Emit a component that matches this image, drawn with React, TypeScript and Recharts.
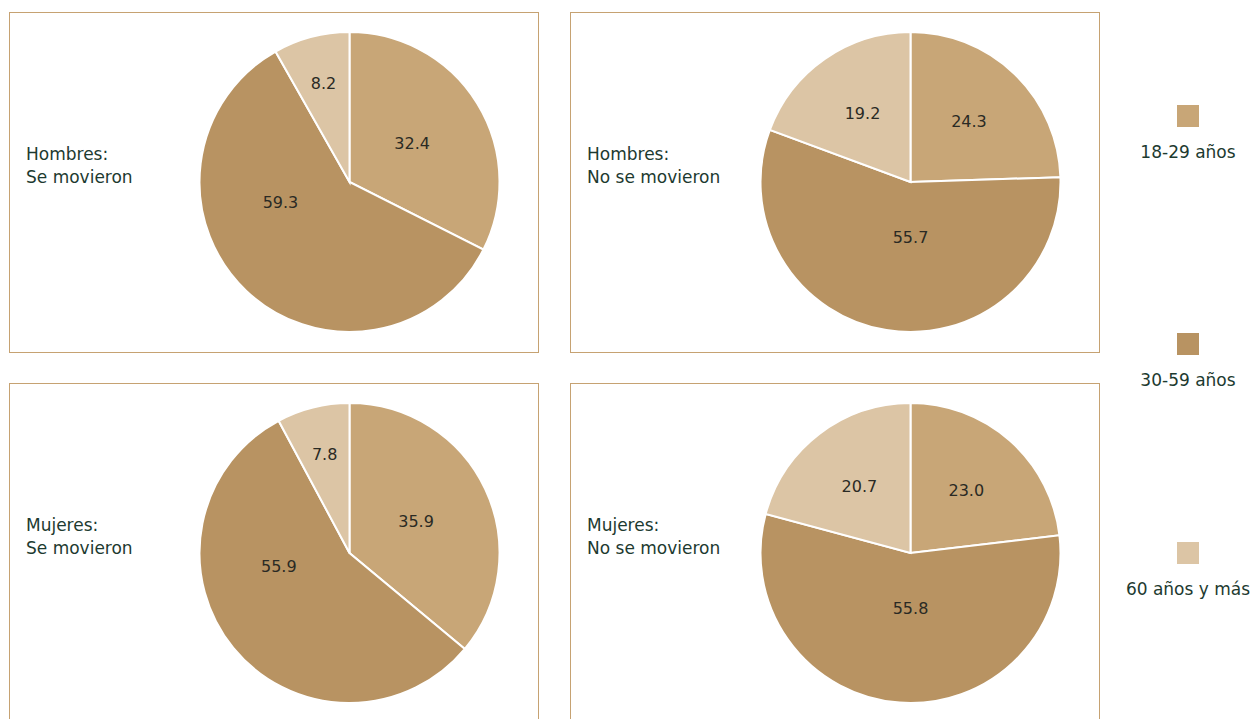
import React from 'react';
import { PieChart, Pie, Cell } from 'recharts';

// age groups (legend + slice order, clockwise from 12 o'clock)
const ageGroups = ['18-29 años', '30-59 años', '60 años y más'];
const sliceColors = ['#c8a677', '#b89362', '#dcc5a5'];

// percentages per panel
const hombresSeMovieron = [32.4, 59.3, 8.2];
const hombresNoSeMovieron = [24.3, 55.7, 19.2];
const mujeresSeMovieron = [35.9, 55.9, 7.8];
const mujeresNoSeMovieron = [23.0, 55.8, 20.7];

const panelTitles = [
  ['Hombres:', 'Se movieron'],
  ['Hombres:', 'No se movieron'],
  ['Mujeres:', 'Se movieron'],
  ['Mujeres:', 'No se movieron'],
];

const panelValues = [hombresSeMovieron, hombresNoSeMovieron, mujeresSeMovieron, mujeresNoSeMovieron];

const FONT = '"DejaVu Sans", "Open Sans", sans-serif';
const TEXT = '#1d3a30';
const BORDER = '#c6a272';

const PANEL_W = 530;
const PANEL_H = 341;
const RADIUS = 150;

// rough imitation of a "best fit" label placement
const renderLabel = ({ cx, cy, midAngle, startAngle, endAngle, outerRadius, percent, value }: any) => {
  const RADIAN = Math.PI / 180;
  let angle = midAngle;
  let f = 0.49;
  if (percent < 0.1) f = 0.68;
  else if (percent < 0.3) f = 0.56;
  else if (percent > 0.5) {
    const down = Math.abs(Math.cos(-midAngle * RADIAN)) < 0.2;
    if (down) {
      angle = -90;
      f = 0.37;
    } else {
      angle = midAngle - 0.14 * Math.abs(endAngle - startAngle);
      f = 0.48;
    }
  }
  const r = outerRadius * f;
  return (
    <text
      x={cx + r * Math.cos(-angle * RADIAN)}
      y={cy + r * Math.sin(-angle * RADIAN)}
      fill="#2a2a24"
      textAnchor="middle"
      dominantBaseline="central"
      fontSize={16}
      fontFamily={FONT}
    >
      {Number(value).toFixed(1)}
    </text>
  );
};

const Panel: React.FC<{ left: number; top: number; idx: number }> = ({ left, top, idx }) => {
  const data = ageGroups.map((g, i) => ({ name: g, value: panelValues[idx][i] }));
  return (
    <div
      style={{
        position: 'absolute',
        left,
        top,
        width: PANEL_W,
        height: PANEL_H,
        border: `1px solid ${BORDER}`,
        boxSizing: 'border-box',
      }}
    >
      <div
        style={{
          position: 'absolute',
          left: 16,
          top: 130,
          fontFamily: FONT,
          fontSize: 17,
          lineHeight: '23px',
          color: TEXT,
        }}
      >
        {panelTitles[idx].map((t) => (
          <div key={t}>{t}</div>
        ))}
      </div>
      <div style={{ position: 'absolute', left: 0, top: 0 }}>
        <PieChart width={PANEL_W - 2} height={PANEL_H - 2} margin={{ top: 0, right: 0, bottom: 0, left: 0 }}>
          <Pie
            data={data}
            dataKey="value"
            cx={339.5}
            cy={169}
            outerRadius={RADIUS}
            innerRadius={0}
            startAngle={90}
            endAngle={-270}
            labelLine={false}
            label={renderLabel}
            isAnimationActive={false}
          >
            {data.map((d, i) => (
              <Cell key={d.name} fill={sliceColors[i]} stroke="#ffffff" strokeWidth={2} />
            ))}
          </Pie>
        </PieChart>
      </div>
    </div>
  );
};

const legendTops = [105, 333, 542];

export default function App() {
  return (
    <div
      style={{
        position: 'absolute',
        left: 0,
        top: 0,
        width: 1253,
        height: 719,
        overflow: 'hidden',
        background: '#ffffff',
      }}
    >
      <Panel left={9} top={12} idx={0} />
      <Panel left={570} top={12} idx={1} />
      <Panel left={9} top={383} idx={2} />
      <Panel left={570} top={383} idx={3} />
      {ageGroups.map((g, i) => (
        <div key={g} style={{ position: 'absolute', left: 1108, width: 160, top: legendTops[i], textAlign: 'center' }}>
          <div style={{ width: 22, height: 22, background: sliceColors[i], margin: '0 auto' }} />
          <div style={{ fontFamily: FONT, fontSize: 17, color: TEXT, marginTop: 15, whiteSpace: 'nowrap' }}>{g}</div>
        </div>
      ))}
    </div>
  );
}
